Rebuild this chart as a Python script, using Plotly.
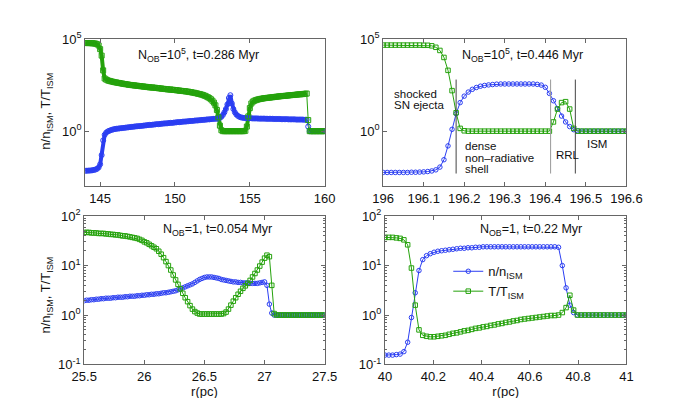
import numpy as np
import plotly.graph_objects as go

# ---- data (log10 of n/n_ISM and T/T_ISM) ----
# top-left: N_OB=1e5, t=0.286 Myr, r = 144.0 ... 160.0 (step 0.1)
tl_r0, tl_r1 = 144.0, 160.0
tl_T = [4.78, 4.78, 4.78, 4.78, 4.77, 4.77, 4.76, 4.75, 4.72, 4.65, 4.45, 4.10, 3.30,
        2.86, 2.80, 2.76, 2.73, 2.71, 2.69, 2.67, 2.65,
        2.64, 2.62, 2.61, 2.59, 2.58, 2.56, 2.55, 2.54, 2.52, 2.51,
        2.50, 2.49, 2.48, 2.47, 2.46, 2.45, 2.44, 2.43, 2.42, 2.41,
        2.40, 2.39, 2.38, 2.37, 2.37, 2.36, 2.35, 2.34, 2.33, 2.32,
        2.31, 2.30, 2.29, 2.28, 2.27, 2.26, 2.26, 2.25, 2.24, 2.23,
        2.22, 2.21, 2.20, 2.19, 2.18, 2.17, 2.16, 2.15, 2.14, 2.12,
        2.11, 2.09, 2.08, 2.06, 2.04, 2.02, 2.00, 1.98, 1.95, 1.92,
        1.88, 1.84, 1.79, 1.73, 1.65, 1.55, 1.40, 1.15,
        0.75, 0.30, 0.05,
        0.0, 0.0, 0.0, 0.0, 0.0, 0.0, 0.0, 0.0, 0.0, 0.0, 0.0, 0.0, 0.0, 0.0, 0.0,
        0.02, 0.25, 0.80, 1.25, 1.50, 1.60, 1.65, 1.68, 1.71,
        1.73, 1.75, 1.76, 1.78, 1.79, 1.80, 1.81, 1.82, 1.83, 1.84,
        1.85, 1.86, 1.87, 1.88, 1.89, 1.90, 1.91, 1.91, 1.92, 1.93,
        1.94, 1.95, 1.96, 1.96, 1.97, 1.98, 1.99, 2.00, 2.00,
        2.01, 2.02, 2.03, 2.04,
        0.60, 0.0,
        0.0, 0.0, 0.0, 0.0, 0.0, 0.0, 0.0, 0.0, 0.0, 0.0]
tl_n = [-2.15, -2.15, -2.14, -2.14, -2.13, -2.12, -2.10, -2.08, -2.04, -1.97, -1.80, -1.30, -0.50,
        -0.20, -0.08, -0.02, 0.02, 0.05, 0.08, 0.10, 0.12,
        0.13, 0.14, 0.15, 0.16, 0.17, 0.18, 0.19, 0.20, 0.21, 0.22,
        0.23, 0.24, 0.25, 0.26, 0.27, 0.27, 0.28, 0.29, 0.30, 0.31,
        0.32, 0.33, 0.34, 0.34, 0.35, 0.36, 0.37, 0.38, 0.38, 0.39,
        0.40, 0.41, 0.42, 0.42, 0.43, 0.44, 0.45, 0.45, 0.46, 0.47,
        0.48, 0.49, 0.49, 0.50, 0.51, 0.52, 0.52, 0.53, 0.54, 0.55,
        0.55, 0.56, 0.57, 0.58, 0.58, 0.59, 0.60, 0.61, 0.61, 0.62,
        0.63, 0.64, 0.64, 0.65, 0.66, 0.67, 0.67, 0.68,
        0.70, 0.72, 0.78, 0.88, 1.02, 1.20, 1.45, 1.80, 1.95, 1.50, 1.20,
        1.02, 0.90, 0.83, 0.78, 0.75, 0.73, 0.72, 0.71, 0.71, 0.70, 0.70,
        0.70, 0.69, 0.69, 0.69, 0.69, 0.68, 0.68, 0.68, 0.68, 0.68,
        0.67, 0.67, 0.67, 0.67, 0.67, 0.66, 0.66, 0.66, 0.66, 0.66,
        0.65, 0.65, 0.65, 0.65, 0.65, 0.64, 0.64, 0.64, 0.64, 0.64,
        0.63, 0.63, 0.63, 0.63, 0.63, 0.62, 0.62, 0.62,
        0.25, 0.0,
        0.0, 0.0, 0.0, 0.0, 0.0, 0.0, 0.0, 0.0, 0.0, 0.0]

# top-right: N_OB=1e5, t=0.446 Myr, r = 196.00 ... 196.60 (step 0.01)
tr_r0, tr_r1 = 196.0, 196.6
tr_T = [4.67, 4.67, 4.67, 4.67, 4.67, 4.67, 4.67, 4.67, 4.67, 4.67, 4.66, 4.66,
        4.63, 4.55, 4.38, 4.00, 3.30, 2.20, 1.00, 0.15, 0.02,
        0.0, 0.0, 0.0, 0.0, 0.0, 0.0, 0.0, 0.0, 0.0, 0.0, 0.0,
        0.0, 0.0, 0.0, 0.0, 0.0, 0.0, 0.0, 0.0, 0.0, 0.0,
        0.50, 1.20, 1.55, 1.60, 1.20, 0.15,
        0.0, 0.0, 0.0, 0.0, 0.0, 0.0, 0.0, 0.0, 0.0, 0.0, 0.0, 0.0, 0.0]
tr_n = [-2.24, -2.24, -2.24, -2.24, -2.24, -2.24, -2.24, -2.23, -2.23, -2.22, -2.21, -2.19,
        -2.16, -2.10, -1.95, -1.55, -0.80, 0.10, 0.95, 1.55, 1.90,
        2.12, 2.27, 2.37, 2.44, 2.48, 2.51, 2.53, 2.55,
        2.56, 2.56, 2.56, 2.56, 2.56, 2.56, 2.56, 2.56, 2.56,
        2.54, 2.50, 2.38, 2.05, 1.65, 1.22, 0.82, 0.50, 0.25, 0.08, 0.02,
        0.0, 0.0, 0.0, 0.0, 0.0, 0.0, 0.0, 0.0, 0.0, 0.0, 0.0, 0.0]
tr_bounds = [196.18, 196.413, 196.474]

# bottom-left: N_OB=1, t=0.054 Myr, r = 25.50 ... 27.50 (step 0.02)
bl_r0, bl_r1 = 25.5, 27.5
bl_T = [1.67, 1.67, 1.67, 1.66, 1.66, 1.66, 1.65, 1.65, 1.65, 1.64,
        1.64, 1.63, 1.63, 1.62, 1.62, 1.61, 1.60, 1.60, 1.59, 1.58,
        1.57, 1.56, 1.55, 1.53, 1.51,
        1.48, 1.46, 1.43, 1.40, 1.37, 1.34, 1.29, 1.23, 1.16, 1.08,
        1.00, 0.91, 0.81, 0.71, 0.62, 0.53, 0.44, 0.35, 0.27, 0.19,
        0.12, 0.07, 0.04, 0.02, 0.02, 0.02,
        0.02, 0.02, 0.02, 0.02, 0.02, 0.02, 0.02, 0.03,
        0.06, 0.12, 0.20, 0.28, 0.35, 0.42, 0.48, 0.54, 0.59, 0.64, 0.70,
        0.77, 0.84, 0.91, 0.99, 1.07, 1.15, 1.21, 1.18, 0.60, 0.03,
        0.0, 0.0, 0.0, 0.0, 0.0, 0.0, 0.0, 0.0, 0.0, 0.0, 0.0,
        0.0, 0.0, 0.0, 0.0, 0.0, 0.0, 0.0, 0.0, 0.0, 0.0]
bl_n = [0.29, 0.30, 0.30, 0.31, 0.31, 0.32, 0.32, 0.33, 0.33, 0.34,
        0.34, 0.34, 0.35, 0.35, 0.36, 0.36, 0.36, 0.37, 0.37, 0.38,
        0.38, 0.38, 0.39, 0.39, 0.40,
        0.40, 0.41, 0.41, 0.42, 0.42, 0.43, 0.43, 0.44, 0.45, 0.45,
        0.46, 0.47, 0.48, 0.49, 0.51, 0.53, 0.55, 0.57, 0.59, 0.61,
        0.63, 0.66, 0.69, 0.72, 0.74, 0.76, 0.77, 0.77, 0.77, 0.76,
        0.75, 0.74, 0.72, 0.71, 0.70, 0.69, 0.68, 0.67, 0.67, 0.66,
        0.66, 0.65, 0.65, 0.65, 0.64, 0.64, 0.64, 0.64, 0.65, 0.66,
        0.67, 0.60, 0.22, 0.04, 0.0,
        0.0, 0.0, 0.0, 0.0, 0.0, 0.0, 0.0, 0.0, 0.0, 0.0, 0.0,
        0.0, 0.0, 0.0, 0.0, 0.0, 0.0, 0.0, 0.0, 0.0, 0.0]

# bottom-right: N_OB=1, t=0.22 Myr, r = 40 ... 41 (65 cells)
br_r0, br_r1 = 40.0, 41.0
br_T = [1.57, 1.57, 1.57, 1.56, 1.55, 1.52, 1.42, 0.95, 0.20, -0.30,
        -0.41, -0.43, -0.44, -0.44, -0.43, -0.42, -0.41, -0.39, -0.37, -0.36,
        -0.34, -0.32, -0.31, -0.29, -0.27, -0.26, -0.24, -0.23, -0.21, -0.20,
        -0.18, -0.17, -0.15, -0.14, -0.12, -0.11, -0.09, -0.08, -0.07, -0.06,
        -0.05, -0.04, -0.03, -0.02, -0.01, -0.01, 0.00, 0.05, 0.15, 0.40, 0.10,
        0.0, 0.0, 0.0, 0.0, 0.0, 0.0, 0.0, 0.0, 0.0, 0.0, 0.0, 0.0, 0.0, 0.0]
br_n = [-0.81, -0.81, -0.81, -0.80, -0.79, -0.74, -0.55, -0.05, 0.45, 0.90,
        1.12, 1.20, 1.24, 1.27, 1.29, 1.30, 1.31, 1.32, 1.33, 1.34,
        1.35, 1.35, 1.36, 1.36, 1.37, 1.37,
        1.38, 1.38, 1.38, 1.38, 1.38, 1.38, 1.38, 1.38, 1.38, 1.38,
        1.38, 1.38, 1.38, 1.38, 1.38, 1.38, 1.38, 1.38, 1.38, 1.38,
        1.37, 1.00, 0.55, 0.20, 0.05,
        0.0, 0.0, 0.0, 0.0, 0.0, 0.0, 0.0, 0.0, 0.0, 0.0, 0.0, 0.0, 0.0, 0.0]

BLUE = '#2b3ef2'
GREEN = '#25a20c'
FONT = 'Liberation Sans, Arial, sans-serif'
W, H = 690, 398

fig = go.Figure()

# (x axis, y axis, r range, n, T, marker size)
panels = [
    ('x', 'y', tl_r0, tl_r1, tl_n, tl_T, 5),
    ('x2', 'y2', tr_r0, tr_r1, tr_n, tr_T, 4.5),
    ('x3', 'y3', bl_r0, bl_r1, bl_n, bl_T, 4.5),
    ('x4', 'y4', br_r0, br_r1, br_n, br_T, 4.5),
]
for xa, ya, r0, r1, n, T, ms in panels:
    r = np.linspace(r0, r1, len(n))
    yn = 10 ** np.array(n)
    yT = 10 ** np.array(T)
    if xa == 'x':
        # dense panel: the overlapping markers form a solid band, broken at the outer shock jump
        gap = (r > 158.85) & (r < 158.95)
        for yy, col in ((yn, BLUE), (yT, GREEN)):
            fig.add_trace(go.Scatter(x=r, y=np.where(gap, np.nan, yy), mode='lines',
                                     xaxis=xa, yaxis=ya, showlegend=False, hoverinfo='skip',
                                     line=dict(color=col, width=4)))
    leg = xa == 'x4'
    fig.add_trace(go.Scatter(x=r, y=yn, mode='lines+markers', xaxis=xa, yaxis=ya,
                             name='n/n<sub>ISM</sub>', showlegend=leg,
                             line=dict(color=BLUE, width=1),
                             marker=dict(symbol='circle-open', size=ms, color=BLUE, line=dict(width=1))))
    fig.add_trace(go.Scatter(x=r, y=yT, mode='lines+markers', xaxis=xa, yaxis=ya,
                             name='T/T<sub>ISM</sub>', showlegend=leg,
                             line=dict(color=GREEN, width=1),
                             marker=dict(symbol='square-open', size=ms, color=GREEN, line=dict(width=1))))

# region boundaries in the top-right panel
for xb, col in zip(tr_bounds, ['#444', '#999', '#444']):
    fig.add_trace(go.Scatter(x=[xb, xb], y=[10 ** -2.3, 10 ** 2.8], mode='lines', xaxis='x2', yaxis='y2',
                             showlegend=False, line=dict(color=col, width=1)))


def px_x(p):
    return p / W


def px_y(p):
    return 1 - p / H


base = dict(showline=True, linecolor='#666', linewidth=1, mirror='ticks', ticks='inside',
            ticklen=4, tickcolor='#666', showgrid=False, zeroline=False,
            tickfont=dict(size=13, color='#111', family=FONT))

minor_vals = [k * 10 ** e for e in (-1, 0, 1) for k in range(2, 10)]

fig.update_layout(
    width=W, height=H, margin=dict(l=0, r=0, t=0, b=0),
    paper_bgcolor='white', plot_bgcolor='white',
    font=dict(family=FONT, size=13, color='#111'),
    xaxis=dict(base, domain=[px_x(67), px_x(317)], range=[144, 160], anchor='y',
               tickvals=[145, 150, 155, 160]),
    yaxis=dict(base, domain=[px_y(177), px_y(23)], type='log', range=[-3, 5], anchor='x',
               tickvals=[1, 1e5], ticktext=['10<sup>0</sup>', '10<sup>5</sup>']),
    xaxis2=dict(base, domain=[px_x(378), px_x(632)], range=[196, 196.6], anchor='y2',
                tickvals=[196, 196.1, 196.2, 196.3, 196.4, 196.5, 196.6]),
    yaxis2=dict(base, domain=[px_y(177), px_y(23)], type='log', range=[-3, 5], anchor='x2',
                tickvals=[1, 1e5], ticktext=['10<sup>0</sup>', '10<sup>5</sup>']),
    xaxis3=dict(base, domain=[px_x(66), px_x(317)], range=[25.5, 27.5], anchor='y3',
                tickvals=[25.5, 26, 26.5, 27, 27.5],
                title=dict(text='r(pc)', standoff=2, font=dict(size=13))),
    yaxis3=dict(base, domain=[px_y(363), px_y(208)], type='log', range=[-1, 2], anchor='x3',
                tickvals=[0.1, 1, 10, 100],
                ticktext=['10<sup>-1</sup>', '10<sup>0</sup>', '10<sup>1</sup>', '10<sup>2</sup>'],
                minor=dict(ticks='inside', ticklen=2, tickcolor='#666', tickvals=minor_vals)),
    xaxis4=dict(base, domain=[px_x(380), px_x(632)], range=[40, 41], anchor='y4',
                tickvals=[40, 40.2, 40.4, 40.6, 40.8, 41],
                title=dict(text='r(pc)', standoff=2, font=dict(size=13))),
    yaxis4=dict(base, domain=[px_y(363), px_y(208)], type='log', range=[-1, 2], anchor='x4',
                tickvals=[0.1, 1, 10, 100],
                ticktext=['10<sup>-1</sup>', '10<sup>0</sup>', '10<sup>1</sup>', '10<sup>2</sup>'],
                minor=dict(ticks='inside', ticklen=2, tickcolor='#666', tickvals=minor_vals)),
    legend=dict(x=px_x(446), y=px_y(250), xanchor='left', yanchor='top',
                bgcolor='rgba(0,0,0,0)', font=dict(size=13), itemwidth=30),
)

# y-axis labels of the left column
for cy in (98, 290):
    fig.add_annotation(text='n/n<sub>ISM</sub>, T/T<sub>ISM</sub>', x=px_x(27), y=px_y(cy),
                       xref='paper', yref='paper', textangle=-90, showarrow=False,
                       xanchor='center', yanchor='middle', font=dict(size=13, color='#111'))

titles = [
    ('N<sub>OB</sub>=10<sup>5</sup>, t=0.286 Myr', 185, 40),
    ('N<sub>OB</sub>=10<sup>5</sup>, t=0.446 Myr', 523, 40),
    ('N<sub>OB</sub>=1, t=0.054 Myr', 205, 223),
    ('N<sub>OB</sub>=1, t=0.22 Myr', 532, 223),
]
for txt, cx, cy in titles:
    fig.add_annotation(text=txt, x=px_x(cx), y=px_y(cy), xref='paper', yref='paper',
                       xanchor='center', yanchor='middle',
                       showarrow=False, font=dict(size=12.5, color='#111'))

# region labels (y given as log10 on the log axis)
labels = [
    ('shocked', 196.021, 2.04), ('SN ejecta', 196.021, 1.43),
    ('dense', 196.198, -0.82), ('non\u2013radiative', 196.198, -1.43), ('shell', 196.198, -2.03),
    ('RRL', 196.422, -1.29), ('ISM', 196.497, -0.71),
]
for txt, lx, ly in labels:
    fig.add_annotation(text=txt, x=lx, y=ly, xref='x2', yref='y2', xanchor='left', yanchor='middle',
                       showarrow=False, font=dict(size=11.5, color='#111'))

fig.write_html('out.html')
